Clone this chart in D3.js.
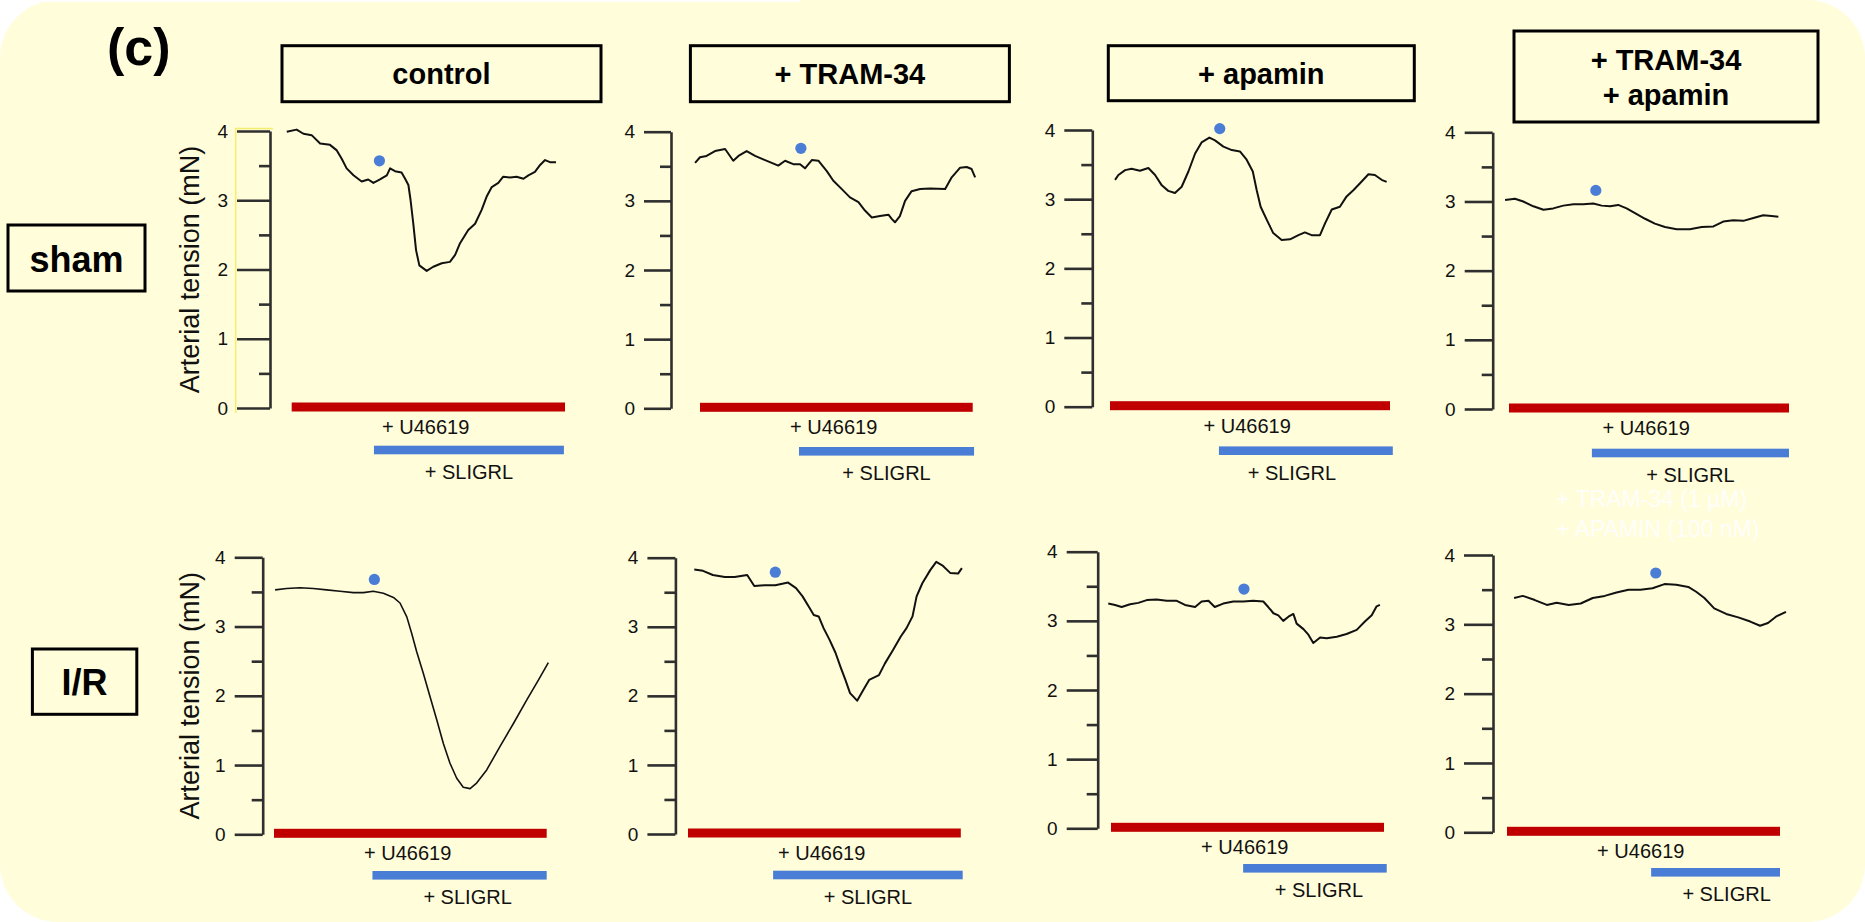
<!DOCTYPE html>
<html>
<head>
<meta charset="utf-8">
<script src="https://cdn.jsdelivr.net/npm/d3@7"></script>
<style>
  body { margin: 0; background: #fff; }
  svg { display: block; font-family: 'Liberation Sans', Arial, sans-serif; }
</style>
</head>
<body>
<svg id="chart" width="1865" height="922"></svg>
<script>
// column / row headings
const columns = ['control', '+ TRAM-34', '+ apamin', '+ TRAM-34|+ apamin']
const rows = ['sham', 'I/R']
const yTicks = [0, 1, 2, 3, 4]
const yMinor = [0.5, 1.5, 2.5, 3.5]
const drugNote = ['+ TRAM-34 (1 µM)', '+ APAMIN (100 nM)']

// traces: [time (% of U46619 period), tension mN]
const shamControl = [[-1.8,3.99],[1.8,4.02],[4.3,3.96],[7.3,3.94],[10.4,3.82],[14,3.8],[16.5,3.72],[18.3,3.6],[20.1,3.46],[22.6,3.36],[25.6,3.27],[28,3.3],[29.9,3.25],[32.3,3.3],[34.8,3.36],[36,3.46],[37.8,3.42],[40.2,3.4],[41.5,3.31],[42.7,3.22],[43.5,3],[44.5,2.66],[45.5,2.28],[46.7,2.06],[49.4,1.98],[51.8,2.04],[54.9,2.09],[57.9,2.11],[59.8,2.21],[61.6,2.38],[64.6,2.57],[67.1,2.66],[69.5,2.86],[71.3,3.05],[73.2,3.19],[75.6,3.25],[77.4,3.34],[79.9,3.33],[82.3,3.34],[84.8,3.31],[86.6,3.36],[89,3.41],[90.9,3.51],[92.7,3.58],[94.5,3.55],[96.7,3.55]]
const shamTram = [[-1.8,3.55],[0,3.63],[2.4,3.65],[5.5,3.72],[9.2,3.75],[12.2,3.58],[14.1,3.65],[17.1,3.72],[20.2,3.65],[23.2,3.6],[26.3,3.55],[28.7,3.51],[31.2,3.58],[34.2,3.53],[36.7,3.53],[38.5,3.47],[41,3.59],[43.4,3.58],[46.5,3.43],[48.9,3.29],[52,3.17],[55,3.05],[58.1,2.98],[60.5,2.86],[63,2.76],[66,2.78],[69.1,2.8],[70.3,2.74],[71.5,2.69],[73.3,2.78],[75.2,3],[77.6,3.14],[80.7,3.17],[84.4,3.18],[89.9,3.17],[92.3,3.34],[95.4,3.48],[97.8,3.49],[99.6,3.46],[100.9,3.34]]
const shamApamin = [[1.8,3.28],[3,3.35],[5.4,3.42],[7.7,3.44],[10.7,3.41],[13.7,3.45],[16.1,3.35],[18.5,3.2],[20.8,3.12],[23.2,3.09],[25.6,3.18],[28,3.4],[30.4,3.66],[32.7,3.82],[35.5,3.89],[37.5,3.85],[40.5,3.76],[43.5,3.71],[46.4,3.69],[48.8,3.57],[51,3.4],[52.4,3.13],[53.8,2.89],[56,2.7],[58.3,2.51],[61.3,2.41],[64.3,2.42],[67.3,2.48],[69.6,2.52],[72,2.48],[75,2.48],[76.8,2.65],[79.2,2.85],[82.1,2.89],[84.5,3.04],[86.9,3.13],[89.3,3.23],[92.3,3.36],[94.6,3.35],[97,3.28],[98.8,3.25]]
const shamBoth = [[-1.4,3.02],[2.1,3.04],[5.1,3],[8.7,2.93],[12.3,2.88],[15.8,2.9],[19.4,2.94],[23,2.96],[26.5,2.96],[30.1,2.97],[33.1,2.94],[36.1,2.93],[39,2.95],[42,2.9],[45,2.83],[48.6,2.75],[52.1,2.68],[55.7,2.63],[59.9,2.6],[64.6,2.6],[68.8,2.63],[73,2.64],[76.5,2.71],[80.1,2.73],[83.7,2.72],[87.3,2.76],[90.8,2.8],[93.8,2.79],[96.2,2.78]]
const irControl = [[0.4,3.53],[4.6,3.55],[9.5,3.56],[14.4,3.55],[19.3,3.53],[24.2,3.51],[29.1,3.49],[32.8,3.49],[36.4,3.51],[40.1,3.48],[43.8,3.42],[46.2,3.34],[48.7,3.14],[50.5,2.9],[52.3,2.64],[54.8,2.32],[57.2,1.99],[59.7,1.65],[62.1,1.31],[64.5,1.03],[67,0.81],[69.4,0.68],[71.9,0.66],[74.3,0.74],[78,0.93],[82.9,1.27],[87.8,1.6],[92.7,1.94],[97,2.23],[100.6,2.48]]
const irTram = [[2.3,3.83],[5.5,3.81],[9.1,3.75],[13.5,3.72],[17.1,3.72],[21.7,3.75],[24.3,3.59],[28,3.6],[32,3.6],[36.7,3.64],[39.6,3.56],[42,3.44],[44.3,3.29],[46.1,3.17],[47.9,3.15],[49.7,2.98],[51.9,2.81],[54.1,2.62],[55.9,2.42],[57.7,2.23],[59.4,2.04],[62,1.93],[64.2,2.08],[66.4,2.23],[70,2.3],[72.2,2.47],[75.1,2.66],[78,2.86],[80.1,2.98],[82.3,3.15],[83.8,3.44],[85.9,3.63],[88.8,3.82],[91,3.94],[93.2,3.89],[96.1,3.78],[99,3.77],[100.4,3.85]]
const irApamin = [[-1,3.25],[1.5,3.23],[3.9,3.2],[7,3.24],[10,3.26],[13.1,3.3],[16.7,3.31],[20.4,3.29],[24.1,3.29],[27.1,3.23],[30.8,3.2],[33.2,3.28],[35.7,3.29],[38,3.2],[41.1,3.25],[44.8,3.28],[48.5,3.28],[52.1,3.29],[55.8,3.28],[57.6,3.2],[59.5,3.11],[61.3,3.08],[63.1,3],[65,3.06],[66.8,3.1],[68,2.96],[70.5,2.88],[72.3,2.8],[74.1,2.68],[76.6,2.76],[79,2.75],[82.7,2.77],[86.3,2.81],[90,2.87],[93,2.99],[95.5,3.08],[97.3,3.21],[98.5,3.23]]
const irBoth = [[2.6,3.38],[5.8,3.41],[10.2,3.35],[14.6,3.28],[18.2,3.31],[22.6,3.28],[27,3.3],[31.4,3.38],[35.8,3.41],[40.1,3.46],[44.5,3.5],[48.9,3.5],[53.3,3.52],[57.7,3.58],[62,3.57],[66.4,3.54],[69.3,3.47],[72.3,3.38],[75.9,3.23],[80.3,3.15],[84.7,3.1],[89.1,3.04],[92.7,2.98],[95.6,3.02],[98.5,3.11],[102.2,3.18]]
const traces = [shamControl, shamTram, shamApamin, shamBoth, irControl, irTram, irApamin, irBoth]

// SLIGRL addition marker (time, tension) and drug periods
const sligrlDots = [[32.1,3.57],[37,3.76],[39.2,4.02],[31,3.16],[36.8,3.68],[32,3.79],[48.7,3.46],[54.5,3.74]]
const u46619Period = [[0,100],[0,100],[0,100],[0,100],[0,100],[0,100],[0,100],[0,100]]
const sligrlPeriod = [[30.1,99.6],[36.3,100.5],[38.9,101],[29.6,100],[36.1,100],[31.2,100.7],[48.4,101],[52.8,100]]

// layout of each small panel (pixels)
const layout = [
  { axisX: 270, y0: 408, y4: 131, tick: 33, x0: 291.7, x1: 565, barDy: 43, sDx: 0 },
  { axisX: 671, y0: 408.3, y4: 131.7, tick: 27, x0: 700, x1: 972.7, barDy: 44, sDx: 0 },
  { axisX: 1092.3, y0: 406.7, y4: 130, tick: 28, x0: 1110, x1: 1390, barDy: 45, sDx: -14 },
  { axisX: 1492.7, y0: 409, y4: 132.3, tick: 28, x0: 1509, x1: 1789, barDy: 45, sDx: 0 },
  { axisX: 262.7, y0: 834.3, y4: 557.3, tick: 28, x0: 274, x1: 546.7, barDy: 42, sDx: 8 },
  { axisX: 675.4, y0: 834, y4: 557.7, tick: 28, x0: 688, x1: 960.8, barDy: 42, sDx: 0 },
  { axisX: 1097.7, y0: 828.3, y4: 551.7, tick: 31, x0: 1111, x1: 1384, barDy: 41, sDx: 4 },
  { axisX: 1493, y0: 832.3, y4: 555, tick: 29, x0: 1507, x1: 1780, barDy: 41, sDx: 11 }
]
const titleBoxes = [
  { x: 282, y: 45.7, w: 319, h: 56 },
  { x: 690.4, y: 45.7, w: 319, h: 56 },
  { x: 1108.3, y: 45.7, w: 306, h: 55 },
  { x: 1514, y: 31, w: 304, h: 91 }
]
const rowBoxes = [
  { x: 8, y: 225, w: 137, h: 66 },
  { x: 32.4, y: 649, w: 104.4, h: 65.3 }
]

const red = '#c00000'
const blue = '#4a7dd6'
const bg = '#fffdda'

const svg = d3.select('#chart')

// background card
svg.append('rect')
  .attr('x', 0).attr('y', 0)
  .attr('width', 1865).attr('height', 922)
  .attr('rx', 58).attr('ry', 58)
  .attr('fill', bg)
svg.append('rect')
  .attr('x', 0).attr('y', 0).attr('width', 800).attr('height', 2)
  .attr('fill', '#fff')

// panel letter
svg.append('text')
  .text('(c)')
  .attr('x', 107).attr('y', 65)
  .style('font-size', '52px')
  .style('font-weight', 700)

// column titles
titleBoxes.forEach((b, i) => {
  svg.append('rect')
    .attr('x', b.x).attr('y', b.y).attr('width', b.w).attr('height', b.h)
    .attr('fill', 'none').attr('stroke', '#000').attr('stroke-width', 3)
  const lines = columns[i].split('|')
  const t = svg.append('text')
    .attr('text-anchor', 'middle')
    .style('font-size', '29px')
    .style('font-weight', 700)
  if (lines.length === 1) {
    t.append('tspan').text(lines[0])
      .attr('x', b.x + b.w / 2).attr('y', b.y + b.h / 2 + 10.5)
  } else {
    lines.forEach((l, j) => {
      t.append('tspan').text(l)
        .attr('x', b.x + b.w / 2).attr('y', b.y + 39 + j * 35)
    })
  }
})

// row labels
rowBoxes.forEach((b, i) => {
  svg.append('rect')
    .attr('x', b.x).attr('y', b.y).attr('width', b.w).attr('height', b.h)
    .attr('fill', 'none').attr('stroke', '#000').attr('stroke-width', 3)
  svg.append('text')
    .text(rows[i])
    .attr('x', b.x + b.w / 2).attr('y', b.y + b.h / 2 + 13.5)
    .attr('text-anchor', 'middle')
    .style('font-size', '36px')
    .style('font-weight', 700)
})

// faint left edge of the first pasted trace
svg.append('path')
  .attr('d', 'M235.7,413V128.5H273')
  .attr('fill', 'none')
  .attr('stroke', '#f4ee70')
  .attr('stroke-width', 1.5)

traces.forEach((data, i) => {
  const L = layout[i]
  const y = d3.scaleLinear().domain([0, 4]).range([L.y0, L.y4])
  const x = d3.scaleLinear().domain([0, 100]).range([L.x0, L.x1])
  const g = svg.append('g')

  // major ticks with labels
  const ax = g.append('g')
    .attr('transform', `translate(${L.axisX},0)`)
    .call(d3.axisLeft(y).tickValues(yTicks).tickFormat(d3.format('d'))
      .tickSize(L.tick).tickSizeOuter(0).tickPadding(9))
  ax.select('.domain').attr('stroke', '#2f2f2f').attr('stroke-width', 2.6)
  ax.selectAll('.tick line').attr('stroke', '#2f2f2f').attr('stroke-width', 2.6)
  ax.selectAll('.tick text')
    .attr('fill', '#111')
    .style('font-size', '19px')
    .style('font-family', "'Liberation Sans', Arial, sans-serif")

  // minor ticks
  const mx = g.append('g')
    .attr('transform', `translate(${L.axisX},0)`)
    .call(d3.axisLeft(y).tickValues(yMinor).tickSize(11).tickFormat(''))
  mx.select('.domain').remove()
  mx.selectAll('.tick line').attr('stroke', '#2f2f2f').attr('stroke-width', 2.6)

  if (i % 4 === 0) {
    g.append('text')
      .text('Arterial tension (mN)')
      .attr('transform', `translate(198.5,${(L.y0 + L.y4) / 2}) rotate(-90)`)
      .attr('text-anchor', 'middle')
      .attr('fill', '#111')
      .style('font-size', '27px')
  }

  // trace
  const line = d3.line().x(d => x(d[0])).y(d => y(d[1]))
  g.append('path')
    .datum(data)
    .attr('d', line)
    .attr('fill', 'none')
    .attr('stroke', '#111')
    .attr('stroke-width', i === 4 ? 1.6 : 2)
    .attr('stroke-linejoin', 'round')

  // SLIGRL marker
  g.append('circle')
    .attr('cx', x(sligrlDots[i][0]))
    .attr('cy', y(sligrlDots[i][1]))
    .attr('r', 5.6)
    .attr('fill', blue)

  // drug bars
  const redY = y(0) - 1
  const blueY = redY + L.barDy
  const up = u46619Period[i]
  const sp = sligrlPeriod[i]
  g.append('rect')
    .attr('x', x(up[0])).attr('width', x(up[1]) - x(up[0]))
    .attr('y', redY - 4.5).attr('height', 9)
    .attr('fill', red)
  g.append('rect')
    .attr('x', x(sp[0])).attr('width', x(sp[1]) - x(sp[0]))
    .attr('y', blueY - 4.3).attr('height', 8.6)
    .attr('fill', blue)
  g.append('text')
    .text('+ U46619')
    .attr('x', x(49)).attr('y', redY + 27)
    .attr('text-anchor', 'middle')
    .attr('fill', '#111')
    .style('font-size', '20px')
  g.append('text')
    .text('+ SLIGRL')
    .attr('x', (x(sp[0]) + x(sp[1])) / 2 + L.sDx).attr('y', blueY + 29)
    .attr('text-anchor', 'middle')
    .attr('fill', '#111')
    .style('font-size', '20px')
})

// nearly invisible white note under the last sham panel
svg.append('text')
  .selectAll('tspan')
  .data(drugNote)
  .join('tspan')
  .text(d => d)
  .attr('x', 1556)
  .attr('y', (d, j) => 507 + j * 30)
  .attr('fill', '#ffffff')
  .attr('fill-opacity', 0.9)
  .style('font-size', '23px')
</script>
</body>
</html>
